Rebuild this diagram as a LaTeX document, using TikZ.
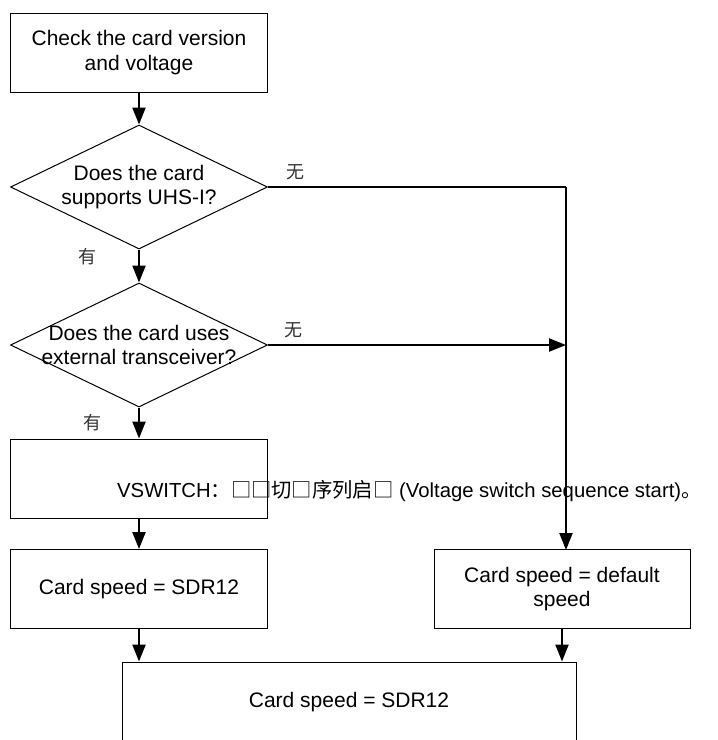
\documentclass[tikz,border=0pt]{standalone}
\usepackage{fontspec}
\setmainfont{Liberation Sans}
\newfontfamily\cjk{Noto Sans CJK SC}
\usetikzlibrary{shapes.geometric,arrows.meta}
\tikzset{
  box/.style={draw,line width=1pt,rectangle,minimum width=257pt,minimum height=79pt,align=center,inner sep=0pt},
  dia/.style={draw,line width=1pt,diamond,minimum width=257pt,minimum height=124pt,inner sep=0pt},
  diatext/.style={label={[align=center,inner sep=0pt]center:#1}},
  conn/.style={line width=2.2pt,-{Triangle[length=17pt,width=13pt]}},
  line/.style={line width=2.2pt},
  lbl/.style={font=\cjk\fontsize{18}{20}\selectfont,inner sep=0pt,text=black!80}
}
\begin{document}
\begin{tikzpicture}[x=1pt,y=-1pt,font=\fontsize{21}{24.5}\selectfont]
\useasboundingbox (0,0) rectangle (718,740);
\clip (0,0) rectangle (718,740);
\node[box] (b1) at (139,52.5) {Check the card version\\and voltage};
\node[dia,diatext={Does the card\\supports UHS-I?}] (d1) at (139,187) {};
\node[dia,diatext={Does the card uses\\external transceiver?}] (d2) at (139,345) {};
\node[box] (vs) at (139,478.5) {};
\node[box] (sdr) at (139,589) {Card speed = SDR12};
\node[box,minimum width=256pt] (rb) at (562,589) {Card speed = default\\speed};
\node[box,minimum width=454pt,minimum height=80pt] (bot) at (349,702) {Card speed = SDR12};
\coordinate (j) at (566,345);
\coordinate (jtop) at (566,187);
\coordinate (jend) at (566,550);
\node[anchor=west,inner sep=0pt,font=\fontsize{20.3}{24}\selectfont] (vst) at (117,491) {VSWITCH{\cjk ：□□切□序列启□} (Voltage switch sequence start){\cjk 。}};
\node[lbl] (n1) at (295,172) {无};
\node[lbl] (n2) at (293,330) {无};
\node[lbl] (y1) at (87,257) {有};
\node[lbl] (y2) at (92,423) {有};
\draw[conn] (b1.south) -- (d1.north);
\draw[conn] (d1.south) -- (d2.north);
\draw[conn] (d2.south) -- (vs.north);
\draw[conn] (vs.south) -- (sdr.north);
\draw[line] (d1.east) -- (jtop);
\draw[conn] (jtop) -- (jend);
\draw[conn] (d2.east) -- (j);
\draw[conn] (sdr.south) -- (sdr.south |- bot.north);
\draw[conn] (rb.south) -- (rb.south |- bot.north);
\end{tikzpicture}
\end{document}
